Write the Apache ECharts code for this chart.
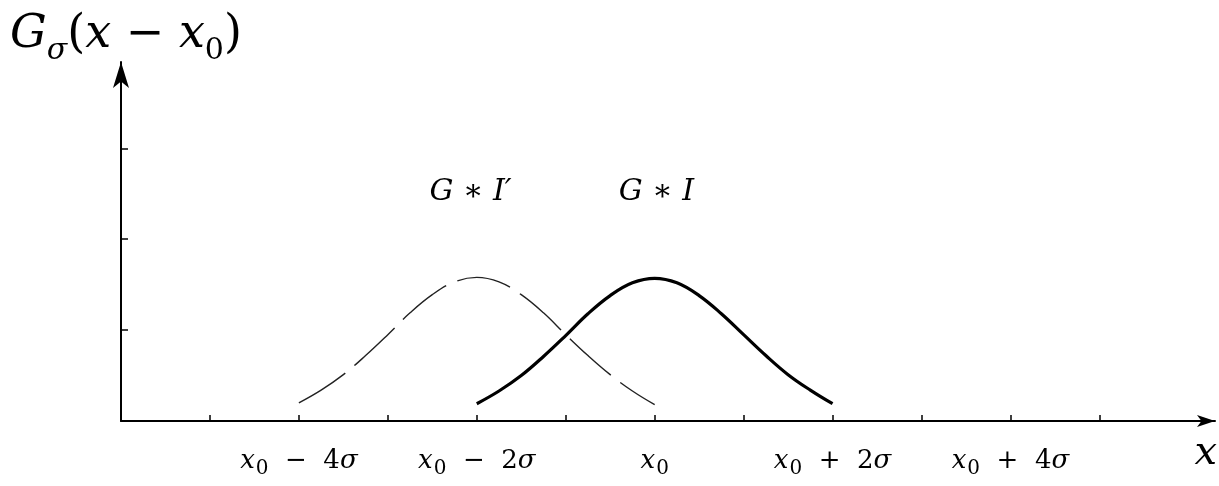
<!DOCTYPE html>
<html>
<head>
<meta charset="utf-8">
<script src="https://cdn.jsdelivr.net/npm/echarts@6/dist/echarts.min.js"></script>
<style>html,body{margin:0;padding:0;background:#fff}#c{width:1219px;height:486px}</style>
</head>
<body>
<div id="c"></div>
<script>
// x in units of sigma relative to x0
const xTickValues = [-5,-4,-3,-2,-1,0,1,2,3,4,5];
const xLabelValues = [-4,-2,0,2,4];
const xLabelParts = { '-4': ['−', '4'], '-2': ['−', '2'], '0': null, '2': ['+', '2'], '4': ['+', '4'] };
const yTickValues = [1,2,3];

// G * I  (solid)
const solidX = [-2,-1.75,-1.5,-1.25,-1,-0.75,-0.5,-0.25,0,0.25,0.5,0.75,1,1.25,1.5,1.75,2];
const solidY = [0.19,0.33,0.50,0.71,0.94,1.18,1.38,1.52,1.57,1.52,1.38,1.18,0.95,0.72,0.51,0.34,0.19];
// G * I'  (dashed)
const dashX = [-4,-3.75,-3.5,-3.25,-3,-2.75,-2.5,-2.25,-2,-1.75,-1.5,-1.25,-1,-0.75,-0.5,-0.25,0];
const dashY = [0.20,0.34,0.51,0.72,0.95,1.19,1.39,1.53,1.58,1.53,1.39,1.19,0.95,0.72,0.51,0.33,0.18];

const labelA = { x: -2.07, y: 2.52, text: "G ∗ I′" };
const labelB = { x: 0.02, y: 2.52, text: "G ∗ I" };

const serif = '"DejaVu Serif", "Liberation Serif", serif';
const chart = echarts.init(document.getElementById('c'), null, { renderer: 'canvas' });

function pairs(xs, ys) { return xs.map((x, i) => [x, ys[i]]); }

chart.setOption({
  animation: false,
  backgroundColor: '#fff',
  grid: { left: 121, right: 4, top: 62, bottom: 65 },
  xAxis: {
    type: 'value', min: -6, max: 6.3,
    splitLine: { show: false },
    axisLine: { onZero: false, lineStyle: { color: '#000', width: 2 }, symbol: ['none', 'arrow'], symbolSize: [9, 18] },
    axisTick: { show: true, inside: true, length: 6, customValues: xTickValues, lineStyle: { color: '#000', width: 1.5 } },
    axisLabel: {
      show: true, margin: 27, customValues: xLabelValues,
      formatter: function (v) {
        const p = xLabelParts[String(v)];
        if (!p) return '{i|x}{s|0}';
        return '{i|x}{s|0}{n|  ' + p[0] + '  ' + p[1] + '}{i|σ}';
      },
      rich: {
        i: { fontFamily: serif, fontStyle: 'italic', fontSize: 26, color: '#000', lineHeight: 32, verticalAlign: 'top' },
        s: { fontFamily: serif, fontSize: 20, color: '#000', lineHeight: 32, verticalAlign: 'top', padding: [11, 0, 0, 1] },
        n: { fontFamily: serif, fontSize: 26, color: '#000', lineHeight: 32, verticalAlign: 'top' }
      }
    }
  },
  yAxis: {
    type: 'value', min: 0, max: 3.95,
    splitLine: { show: false },
    axisLine: { onZero: false, lineStyle: { color: '#000', width: 2 }, symbol: ['none', 'arrow'], symbolSize: [12, 26] },
    axisTick: { show: true, inside: true, length: 7, customValues: yTickValues, lineStyle: { color: '#000', width: 1.5 } },
    axisLabel: { show: false }
  },
  series: [
    {
      type: 'line', data: pairs(dashX, dashY), smooth: 0.4, symbol: 'none',
      lineStyle: { color: '#222', width: 1.4, type: [55, 12] }
    },
    {
      type: 'line', data: pairs(solidX, solidY), smooth: 0.4, symbol: 'none',
      lineStyle: { color: '#000', width: 3.2 }
    },
    {
      type: 'scatter', symbolSize: 0, silent: true,
      itemStyle: { color: '#000', opacity: 1 },
      data: [
        { value: [labelA.x, labelA.y], label: { formatter: labelA.text } },
        { value: [labelB.x, labelB.y], label: { formatter: labelB.text } }
      ],
      label: { show: true, position: 'inside', fontFamily: serif, fontStyle: 'italic', fontSize: 30, color: '#000', textBorderWidth: 0, opacity: 1 }
    }
  ],
  graphic: [
    {
      type: 'text', left: 10, top: 12,
      style: {
        text: '{g|G}{sg|σ}{p|(}{i|x}{p| − }{i|x}{s|0}{p|)}',
        rich: {
          g: { fontFamily: serif, fontStyle: 'italic', fontSize: 46, fill: '#000', lineHeight: 60, verticalAlign: 'top' },
          sg: { fontFamily: serif, fontStyle: 'italic', fontSize: 30, fill: '#000', lineHeight: 60, verticalAlign: 'top', padding: [24, 0, 0, 0] },
          p: { fontFamily: serif, fontSize: 46, fill: '#000', lineHeight: 60, verticalAlign: 'top' },
          i: { fontFamily: serif, fontStyle: 'italic', fontSize: 46, fill: '#000', lineHeight: 60, verticalAlign: 'top' },
          s: { fontFamily: serif, fontSize: 30, fill: '#000', lineHeight: 60, verticalAlign: 'top', padding: [24, 0, 0, 0] }
        }
      }
    },
    {
      type: 'text', right: 2, top: 434,
      style: { text: 'x', fontFamily: serif, fontStyle: 'italic', fontSize: 40, fill: '#000' }
    }
  ]
});
</script>
</body>
</html>
